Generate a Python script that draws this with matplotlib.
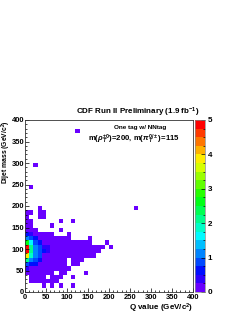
import matplotlib
matplotlib.use("Agg")
import matplotlib.pyplot as plt
import numpy as np
from matplotlib.colors import ListedColormap, BoundaryNorm, hsv_to_rgb
from matplotlib.ticker import MultipleLocator

plt.rcParams['font.family'] = ['Liberation Sans', 'DejaVu Sans']
plt.rcParams['mathtext.fontset'] = 'custom'
plt.rcParams['mathtext.rm'] = 'Liberation Sans:bold'
plt.rcParams['mathtext.it'] = 'Liberation Sans:italic:bold'
plt.rcParams['mathtext.bf'] = 'Liberation Sans:bold'

# ---------------- data (lower bin edges, GeV/c^2) ----------------
row_mjj = [10, 20, 30, 40, 50, 60, 70, 80, 90, 100, 110, 120, 130,
           140, 150, 160, 170, 180, 190, 240, 290, 370]
row_q = [
    [40, 60, 80, 110],
    [10, 20, 30, 40, 50, 60, 70],
    [10, 20, 30, 40, 60, 70, 80, 110],
    [0, 10, 20, 30, 40, 50, 60, 80, 90, 140],
    [0, 10, 20, 30, 40, 50, 60, 70, 80, 90, 100],
    [0, 10, 20, 30, 40, 50, 60, 70, 80, 90, 110, 120],
    [0, 10, 20, 30, 40, 50, 60, 70, 80, 90, 110, 120, 130],
    [0, 10, 20, 30, 40, 50, 60, 70, 80, 90, 100, 110, 120, 130, 140, 150, 160],
    [0, 10, 20, 30, 40, 50, 60, 70, 80, 90, 100, 110, 120, 130, 140, 150, 160, 170],
    [0, 10, 20, 30, 40, 50, 60, 70, 80, 90, 100, 110, 120, 130, 140, 150, 160, 170, 180, 200],
    [0, 10, 20, 30, 40, 50, 60, 70, 80, 90, 100, 110, 120, 130, 140, 150, 190],
    [0, 10, 20, 30, 40, 50, 60, 70, 80, 90, 100, 150],
    [0, 10, 20, 30, 40, 50, 60, 100],
    [0, 10, 20, 80],
    [0, 10, 60],
    [0, 10, 80, 110],
    [0, 30, 40],
    [0, 10, 30, 40],
    [30, 260],
    [10],
    [20],
    [120],
]
base_weight = 0.15

core_q   = [0, 0, 0, 0, 0, 0, 0, 0, 0,
            10, 10, 10, 10, 10, 10, 10, 10,
            20, 20, 20, 20, 20, 20, 20,
            30, 30, 30, 30, 30,
            40, 40, 50, 50]
core_mjj = [50, 60, 70, 80, 90, 100, 110, 120, 130,
            60, 70, 80, 90, 100, 110, 120, 130,
            60, 70, 80, 90, 100, 110, 120,
            70, 80, 90, 100, 110,
            90, 100, 90, 100]
core_w   = [0.4, 0.9, 2.2, 3.9, 4.8, 4.95, 2.7, 1.0, 0.5,
            0.6, 1.1, 1.8, 2.1, 2.1, 1.6, 0.9, 0.4,
            0.5, 0.9, 1.1, 1.2, 1.2, 0.9, 0.5,
            0.5, 0.8, 0.9, 0.8, 0.5,
            0.5, 0.4, 0.3, 0.3]

x_ticks = [0, 50, 100, 150, 200, 250, 300, 350, 400]
y_ticks = [0, 50, 100, 150, 200, 250, 300, 350, 400]
z_ticks = [0, 1, 2, 3, 4, 5]

# ---------------- build weights ----------------
cells = {}
for m, qs in zip(row_mjj, row_q):
    for q in qs:
        cells[(q, m)] = base_weight
for q, m, w in zip(core_q, core_mjj, core_w):
    cells[(q, m)] = w
qv = np.array([k[0] for k in cells]) + 5.0
mv = np.array([k[1] for k in cells]) + 5.0
wv = np.array(list(cells.values()))

# ---------------- palette (ROOT-like violet -> red) ----------------
nlev = 20
hues = np.linspace(0.735, 0.0, nlev)
cols = [hsv_to_rgb((h, 1.0, 1.0)) for h in hues]
cmap = ListedColormap(cols)
levels = np.linspace(0, 5, nlev + 1)
norm = BoundaryNorm(levels, nlev)

W, H = 243, 314
fig = plt.figure(figsize=(W / 100, H / 100), dpi=100)
ax = fig.add_axes([25 / W, 1 - 292 / H, 168 / W, 172 / H])
cax = fig.add_axes([195 / W, 1 - 292 / H, 10 / W, 172 / H])

edges = np.arange(0, 401, 10)
h, xe, ye, im = ax.hist2d(qv, mv, bins=[edges, edges], weights=wv,
                          cmap=cmap, norm=norm, cmin=1e-6)

ax.set_xlim(0, 400)
ax.set_ylim(0, 400)
ax.set_xticks(x_ticks)
ax.set_yticks(y_ticks)
ax.xaxis.set_minor_locator(MultipleLocator(10))
ax.yaxis.set_minor_locator(MultipleLocator(10))
ax.tick_params(which='both', direction='in', top=False, right=False,
               width=0.5, labelsize=5.4, pad=1.5)
ax.tick_params(axis='y', pad=0.6)
ax.tick_params(which='major', length=3.2)
ax.tick_params(which='minor', length=1.6)
for lab in ax.get_xticklabels() + ax.get_yticklabels():
    lab.set_fontweight('bold')
for s in ax.spines.values():
    s.set_linewidth(0.6)
    s.set_color('#333333')

fig.text(193 / W, 1 - 308 / H, r'Q value (GeV/c$^2$)', ha='right', va='center',
         fontsize=5.8, fontweight='bold')
fig.text(6.0 / W, 1 - 120 / H, r'Dijet mass (GeV/c$^2$)', ha='center', va='top',
         rotation=90, fontsize=4.9, fontweight='bold')

cb = fig.colorbar(im, cax=cax, ticks=z_ticks)
cb.outline.set_linewidth(0.5)
cb.outline.set_edgecolor('#888888')
cax.yaxis.set_minor_locator(MultipleLocator(0.25))
cax.tick_params(which='both', direction='in', width=0.5, labelsize=5.8, pad=2)
cax.tick_params(which='major', length=3)
cax.tick_params(which='minor', length=1.5)
cax.set_yticklabels([str(t) for t in z_ticks], fontweight='bold')

fig.text(138 / W, 1 - 112.5 / H, r'CDF Run II Preliminary (1.9 fb$^{-1}$)',
         ha='center', va='center', fontsize=5.8, fontweight='bold')
fig.text(140 / W, 1 - 127.5 / H, 'One tag w/ NNtag', ha='center', va='center',
         fontsize=4.6, fontweight='bold')
fig.text(134 / W, 1 - 139 / H,
         r'm($\rho_{T}^{\pm0}$)=200, m($\pi_{T}^{0/\pm}$)=115',
         ha='center', va='center', fontsize=5.6, fontweight='bold')

fig.savefig('out.png', dpi=100)
